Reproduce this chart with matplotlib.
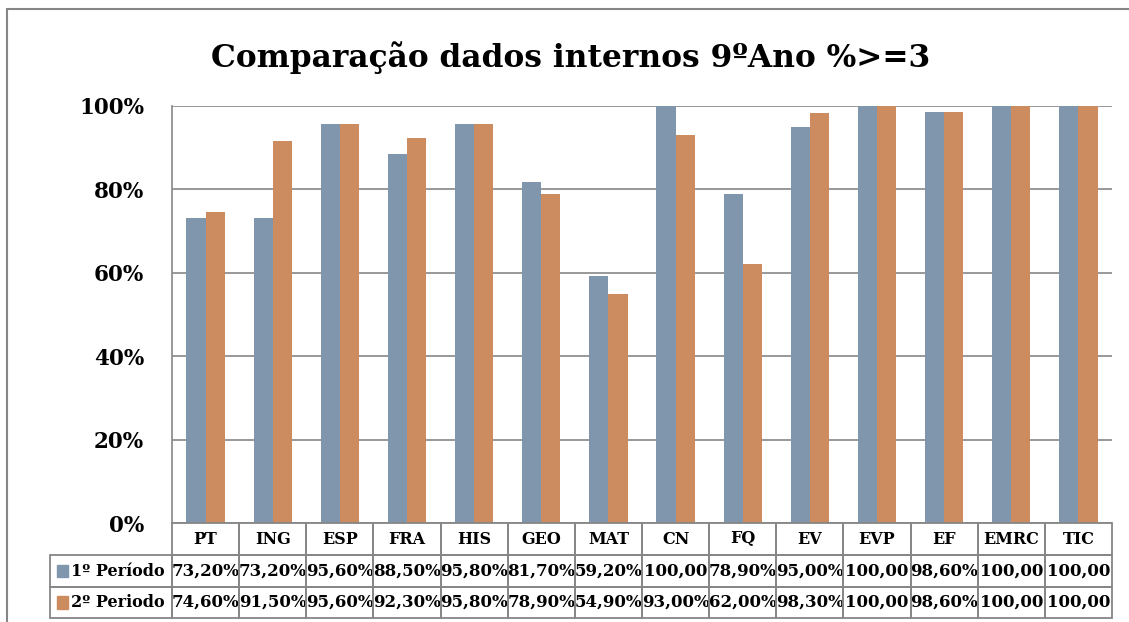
import numpy as np
import matplotlib
matplotlib.use('Agg')
from matplotlib import pyplot as plt
from matplotlib import transforms
from matplotlib.patches import Rectangle

# data
disciplinas = ['PT', 'ING', 'ESP', 'FRA', 'HIS', 'GEO', 'MAT', 'CN', 'FQ',
               'EV', 'EVP', 'EF', 'EMRC', 'TIC']
periodo1 = [73.2, 73.2, 95.6, 88.5, 95.8, 81.7, 59.2, 100.0, 78.9, 95.0,
            100.0, 98.6, 100.0, 100.0]
periodo2 = [74.6, 91.5, 95.6, 92.3, 95.8, 78.9, 54.9, 93.0, 62.0, 98.3,
            100.0, 98.6, 100.0, 100.0]
# labels as printed in the table (Excel cuts some off)
texto1 = ['73,20%', '73,20%', '95,60%', '88,50%', '95,80%', '81,70%', '59,20%',
          '100,00', '78,90%', '95,00%', '100,00', '98,60%', '100,00', '100,00']
texto2 = ['74,60%', '91,50%', '95,60%', '92,30%', '95,80%', '78,90%', '54,90%',
          '93,00%', '62,00%', '98,30%', '100,00', '98,60%', '100,00', '100,00']
series = ['1º Período', '2º Periodo']

COR1 = '#7F96AD'
COR2 = '#CD8C5F'
GRIS = '#868686'
FONTE = 'DejaVu Serif'

plt.rcParams['font.family'] = FONTE
plt.rcParams['font.weight'] = 'bold'

fig = plt.figure(figsize=(11.29, 6.22), dpi=100)
ax = fig.add_axes([172 / 1129, 1 - 523 / 622, 940 / 1129, 417 / 622])

x = np.arange(len(disciplinas))
w = 0.285
ax.bar(x - w / 2, periodo1, w, color=COR1, zorder=3)
ax.bar(x + w / 2, periodo2, w, color=COR2, zorder=3)

ax.set_xlim(-0.5, len(disciplinas) - 0.5)
ax.set_ylim(0, 100)
ax.set_yticks([0, 20, 40, 60, 80, 100])
ax.set_yticklabels(['0%', '20%', '40%', '60%', '80%', '100%'],
                   fontsize=15.5, fontweight='bold')
ax.tick_params(axis='y', length=0, pad=20)
ax.set_xticks([])
ax.grid(axis='y', color=GRIS, linewidth=1.2, zorder=0)
for s in ['top', 'right', 'bottom']:
    ax.spines[s].set_visible(False)
ax.spines['left'].set_color(GRIS)
ax.spines['left'].set_linewidth(1.2)

fig.text(0.505, 1 - 58 / 622, 'Comparação dados internos 9ºAno %>=3',
         ha='center', va='center', fontsize=22.5, fontweight='bold')

# data table under the axes
tr = transforms.blended_transform_factory(ax.transData, ax.transAxes)
h = 32 / 417
esq = -0.5 - 122 / (940 / 14)
linhas = [0, -h, -2 * h, -2 * h - 31 / 417]

def celula(x0, x1, y0, y1):
    ax.add_patch(Rectangle((x0, y0), x1 - x0, y1 - y0, transform=tr,
                           fill=False, edgecolor=GRIS, linewidth=1.3,
                           clip_on=False, zorder=4))

for i, d in enumerate(disciplinas):
    celula(i - 0.5, i + 0.5, linhas[1], linhas[0])
    ax.text(i, (linhas[0] + linhas[1]) / 2, d, transform=tr, ha='center',
            va='center', fontsize=11.5, fontweight='bold')
    for k, txt in enumerate([texto1, texto2]):
        celula(i - 0.5, i + 0.5, linhas[k + 2], linhas[k + 1])
        ax.text(i, (linhas[k + 1] + linhas[k + 2]) / 2, txt[i], transform=tr,
                ha='center', va='center', fontsize=12, fontweight='bold')

for k, (nome, cor) in enumerate(zip(series, [COR1, COR2])):
    celula(esq, -0.5, linhas[k + 2], linhas[k + 1])
    ym = (linhas[k + 1] + linhas[k + 2]) / 2
    ax.add_patch(Rectangle((esq + 0.11, ym - 0.015), 0.16, 0.03, transform=tr,
                           color=cor, clip_on=False, zorder=5))
    ax.text(esq + 0.31, ym, nome, transform=tr, ha='left', va='center',
            fontsize=11.5, fontweight='bold')

# chart border like the Excel chart area
fig.patches.append(Rectangle((7 / 1129, -0.1), 1.2, 1 - 9 / 622 + 0.1,
                             transform=fig.transFigure, fill=False,
                             edgecolor=GRIS, linewidth=1.5))

fig.savefig('out.png', dpi=100)
